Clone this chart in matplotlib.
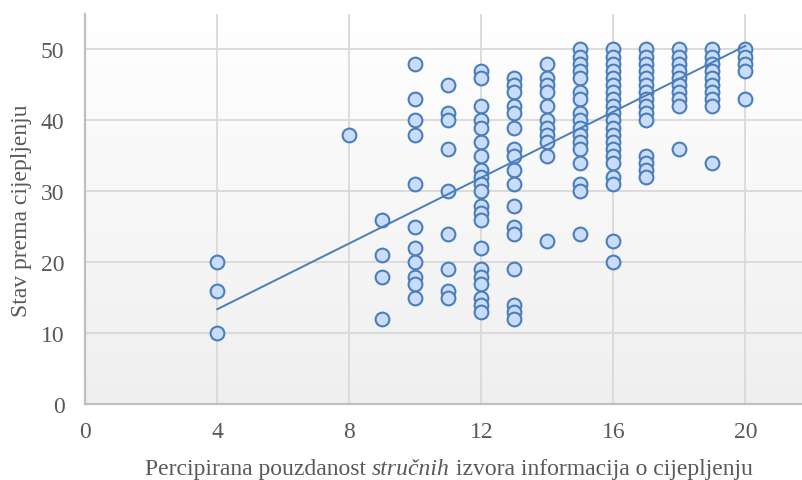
import numpy as np
import matplotlib
matplotlib.use("Agg")
import matplotlib.pyplot as plt
from matplotlib.colors import LinearSegmentedColormap

# ---- data ----
col_x = [4, 8, 9, 10, 11, 12, 13, 14, 15, 16, 17, 18, 19, 20]
col_y = [
    [20, 16, 10],
    [38],
    [26, 21, 18, 12],
    [48, 43, 40, 38, 31, 25, 22, 20, 18, 17, 15],
    [45, 41, 40, 36, 30, 24, 19, 16, 15],
    [47, 46, 42, 40, 39, 37, 35, 33, 32, 31, 30, 28, 27, 26, 22, 19, 18, 17, 15, 14, 13],
    [46, 45, 44, 42, 41, 39, 36, 35, 33, 31, 28, 25, 24, 19, 14, 13, 12],
    [48, 46, 45, 44, 42, 40, 39, 38, 37, 35, 23],
    [50, 49, 48, 47, 46, 44, 43, 41, 40, 39, 38, 37, 36, 34, 31, 30, 24],
    [50, 49, 48, 47, 46, 45, 44, 43, 42, 41, 40, 39, 38, 37, 36, 35, 34, 32, 31, 23, 20],
    [50, 49, 48, 47, 46, 45, 44, 43, 42, 41, 40, 35, 34, 33, 32],
    [50, 49, 48, 47, 46, 45, 44, 43, 42, 36],
    [50, 49, 48, 47, 46, 45, 44, 43, 42, 34],
    [50, 49, 48, 47, 43],
]
trend_x = [4, 20]
trend_y = [13.4, 50.5]
x_ticks = [0, 4, 8, 12, 16, 20]
y_ticks = [0, 10, 20, 30, 40, 50]
x_label_parts = ["Percipirana pouzdanost ", "stručnih", " izvora informacija o cijepljenju"]
y_label = "Stav prema cijepljenju"

xs = np.concatenate([[cx] * len(cy) for cx, cy in zip(col_x, col_y)])
ys = np.concatenate([cy for cy in col_y])

# ---- figure ----
W, H = 803, 481
fig = plt.figure(figsize=(W / 100, H / 100), dpi=100)
ax = fig.add_axes([85.3 / W, 1 - 405.3 / H, 1 - 85.3 / W, (405.3 - 15) / H])
ax.set_xlim(0, (W - 85.3) / 33.0)
ax.set_ylim(0, 55)

# background gradient
cmap = LinearSegmentedColormap.from_list("bg", ["#efefef", "#ffffff"])
grad = np.linspace(0, 1, 256).reshape(-1, 1)
ax.imshow(grad, extent=[0, 1, 0, 1], transform=ax.transAxes, cmap=cmap,
          aspect="auto", origin="lower", zorder=0)

grid_c = "#d9d9d9"
for t in x_ticks[1:]:
    ax.axvline(t, color=grid_c, lw=1.3, zorder=1)
for t in y_ticks[1:]:
    ax.axhline(t, color=grid_c, lw=1.3, zorder=1)

for s in ["top", "right"]:
    ax.spines[s].set_visible(False)
for s in ["left", "bottom"]:
    ax.spines[s].set_color("#bfbfbf")
    ax.spines[s].set_linewidth(1.6)
    ax.spines[s].set_zorder(2)

ax.scatter(xs, ys, s=98, facecolor="#c9dcf9", edgecolor="#4a7ebb",
           linewidths=1.5, zorder=3)
ax.plot(trend_x, trend_y, color="#4a7ebb", lw=1.4, zorder=4)

serif = ["Liberation Serif", "DejaVu Serif"]
txt_c = "#595959"
fs_tick = 17
fs_lab = 17
ax.set_xticks(x_ticks)
ax.set_yticks(y_ticks)
ax.set_xticklabels([str(t) for t in x_ticks], family=serif, fontsize=fs_tick, color=txt_c)
ax.set_yticklabels([str(t) for t in y_ticks], family=serif, fontsize=fs_tick, color=txt_c)
ax.tick_params(axis="both", length=0)
ax.tick_params(axis="x", pad=12)
ax.tick_params(axis="y", pad=15)

fig.text(22 / W, 1 - 211 / H, y_label, rotation=90, family=serif, fontsize=fs_lab,
         color=txt_c, ha="center", va="center")

# x label with italic part, centred
fig.canvas.draw()
r = fig.canvas.get_renderer()
pieces = []
for i, p in enumerate(x_label_parts):
    t = fig.text(0, 1 - 475.5 / H, p, family=serif, fontsize=fs_lab, color=txt_c,
                 style="italic" if i == 1 else "normal", va="baseline", ha="left")
    pieces.append(t)
widths = [t.get_window_extent(r).width for t in pieces]
total = sum(widths)
x0 = 449 - total / 2
for t, w in zip(pieces, widths):
    t.set_x(x0 / W)
    x0 += w

fig.savefig("out.png", dpi=100)
